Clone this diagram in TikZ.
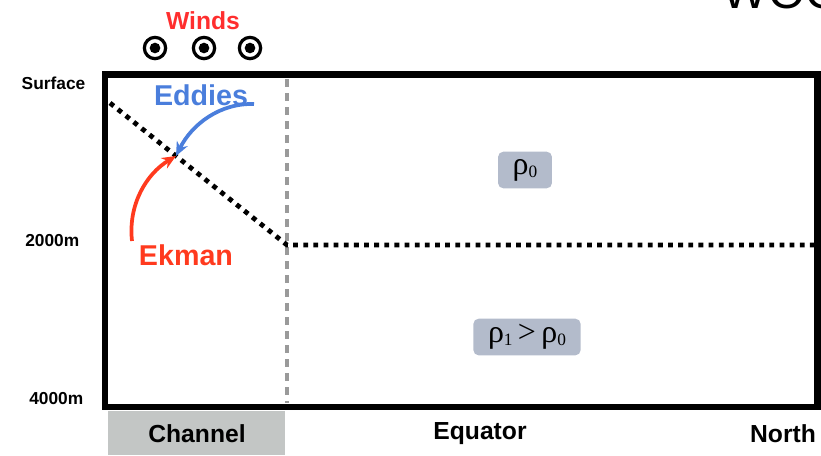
\documentclass[tikz,border=0pt]{standalone}
\usepackage{fontspec}
\setmainfont{Liberation Sans}
\newfontfamily\rhofont{Liberation Serif}
\usetikzlibrary{arrows.meta}
\definecolor{windred}{HTML}{FF2E2E}
\definecolor{ekmanred}{HTML}{FF3A1E}
\definecolor{eddyblue}{HTML}{4A7EDC}
\definecolor{rhofill}{HTML}{B3BBCB}
\definecolor{chgray}{HTML}{C3C6C5}
\definecolor{divgray}{HTML}{9A9A9A}
\newcommand{\rhosub}[1]{ρ\raisebox{-0.2ex}{\fontsize{13}{13}\selectfont #1}}
\begin{document}
\begin{tikzpicture}[x=0.75pt,y=-0.75pt,
  depthlabel/.style={font=\fontsize{13}{15}\selectfont\bfseries, anchor=east},
  axislabel/.style={font=\fontsize{18.5}{20}\selectfont\bfseries},
  rhobox/.style={fill=rhofill, rounded corners=4pt, inner xsep=11pt, inner ysep=2pt,
    minimum height=27.5pt, font=\rhofont\fontsize{24}{26}\selectfont},
  windmark/.style={circle, draw=black, line width=2.4pt, minimum size=16pt, inner sep=0pt},
  isopycnal/.style={line width=3.6pt, dash pattern=on 3.6pt off 4pt},
  divider/.style={draw=divgray, line width=2.3pt, dash pattern=on 6pt off 4.5pt},
  flowarrow/.style={line width=2.8pt, -{Stealth[length=10.5pt,width=9pt]}}]
\useasboundingbox (0,0) rectangle (821,455);

% title, cut off by the page edge
\begin{scope}
  \clip (0,0) rectangle (821,455);
  \node[font=\fontsize{36}{40}\selectfont, anchor=base west] (title) at (718,8) {WOO};
\end{scope}

% zonal labels under the basin
\fill[chgray] (108,411) rectangle (285,455);
\node[axislabel] (channel) at (197,434) {Channel};
\node[axislabel] (equator) at (480,434) {Equator};
\node[axislabel] (north) at (783,434) {North};

% depth labels
\node[depthlabel] (surface) at (90,83) {Surface};
\node[depthlabel] (d2000) at (84,241) {2000m};
\node[depthlabel] (d4000) at (88,399) {4000m};

% channel / basin divide
\coordinate (divtop) at (287,79);
\coordinate (divbot) at (287,403);
\draw[divider] (divtop) -- (divbot);

% isopycnal separating the two layers
\coordinate (isoW) at (110,103);
\coordinate (isoK) at (287,245);
\coordinate (isoE) at (815,245);
\draw[isopycnal] (isoW) -- (isoK) -- (isoE);

% basin outline
\draw[line width=5.2pt] (105,74.5) rectangle (817.5,407);

% winds out of the page
\node[font=\fontsize{18.5}{20}\selectfont\bfseries, text=windred] (winds) at (203,21) {Winds};
\foreach \x/\n in {155/w1,204/w2,250/w3}{
  \node[windmark] (\n) at (\x,48) {};
  \fill (\n.center) circle (4pt);
}

% eddy and Ekman transports meeting on the isopycnal
\coordinate (meet) at (176,156);
\node[font=\fontsize{21.5}{23}\selectfont\bfseries, text=eddyblue] (eddies) at (201,95) {Eddies};
\coordinate (eddystart) at (254,104);
\draw[flowarrow, eddyblue] (eddystart) .. controls (220,103) and (192,124) .. (meet);

\node[font=\fontsize{21.5}{23}\selectfont\bfseries, text=ekmanred] (ekman) at (186,255) {Ekman};
\coordinate (ekmanstart) at (132,241);
\draw[flowarrow, ekmanred] (ekmanstart) .. controls (128,205) and (146,174) .. (meet);

% layer densities
\node[rhobox] (rho0) at (525,170) {\rhosub{0}};
\node[rhobox] (rho1) at (527,337) {\rhosub{1}\,>\,\rhosub{0}};
\end{tikzpicture}
\end{document}
